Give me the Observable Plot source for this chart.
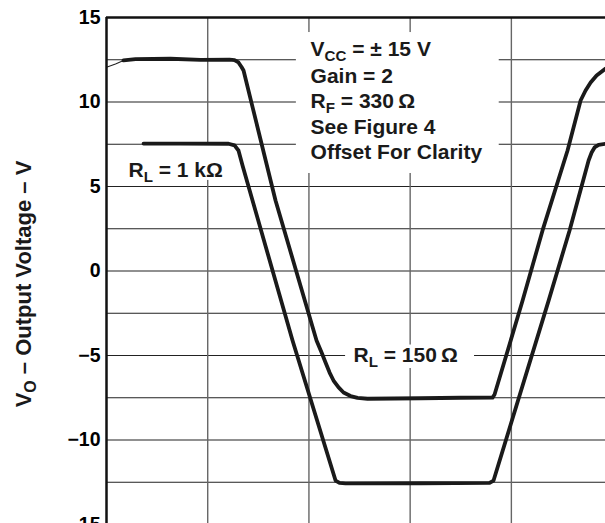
<!DOCTYPE html>
<html><head><meta charset="utf-8">
<script src="https://cdn.jsdelivr.net/npm/d3@7"></script>
<script src="https://cdn.jsdelivr.net/npm/@observablehq/plot@0.6"></script>
<style>
html,body{margin:0;padding:0;background:#fff;overflow:hidden}
#chart svg{display:block}
</style>
</head><body><div id="chart"></div>
<script>
// ---- data ----
const yTicks = [15, 10, 5, 0, -5, -10, -15];
const yTickLabels = ["15", "10", "5", "0", "\u22125", "\u221210", "\u221215"];
const hGrid = [12.5, 10, 7.5, 5, 2.5, 0, -2.5, -5, -7.5, -10, -12.5];
const vGrid = [1, 2, 3, 4];

// R_L = 150 ohm trace (thin lead-in, then thick)
const lead150T = [0, 0.089, 0.168];
const lead150V = [12.06, 12.25, 12.46];
const t150 = [0.168, 0.287, 0.632, 0.929, 1.215, 1.265, 1.304, 1.334, 1.354, 1.670, 2.075, 2.125, 2.164, 2.204, 2.243, 2.293, 2.342, 2.411, 2.480, 2.579, 3.103, 3.498, 3.814, 3.834, 4.111, 4.308, 4.555, 4.684, 4.733, 4.783, 4.842, 4.931];
const v150 = [12.46, 12.54, 12.56, 12.49, 12.51, 12.48, 12.34, 12.07, 11.86, 4.17, -4.11, -4.82, -5.41, -6.01, -6.48, -6.89, -7.19, -7.40, -7.51, -7.56, -7.53, -7.50, -7.49, -7.31, -1.75, 2.40, 7.13, 10.09, 10.68, 11.15, 11.57, 11.98];

// R_L = 1 kohm trace
const t1k = [0.366, 0.731, 1.206, 1.265, 1.304, 1.344, 1.838, 2.263, 2.302, 2.362, 3.103, 3.785, 3.824, 4.368, 4.575, 4.763, 4.793, 4.822, 4.862, 4.931];
const v1k = [7.54, 7.54, 7.53, 7.43, 7.13, 6.24, -4.11, -12.40, -12.54, -12.57, -12.56, -12.54, -12.40, -1.75, 2.40, 6.54, 7.01, 7.31, 7.46, 7.53];

// annotations
const noteLines = ["V{CC} = \u00b1 15 V", "Gain = 2", "R{F} = 330\u2009\u03a9", "See Figure 4", "Offset For Clarity"];
const noteX = [2.016, 2.016, 2.016, 2.016, 2.016];
const noteY = [12.75, 11.14, 9.66, 8.13, 6.60];
const curveLabels = ["R{L} = 1 k\u03a9", "R{L} = 150\u2009\u03a9"];
const curveLabelX = [0.217, 2.44];
const curveLabelY = [5.59, -5.41];
const boxX1 = [1.876, 0.138, 2.362];
const boxX2 = [3.88, 1.176, 3.636];
const boxY1 = [14.11, 7.43, -4.38];
const boxY2 = [5.77, 5.36, -5.77];
const yLabel = "V{O} \u2013 Output Voltage \u2013 V";

// ---- tables ----
const traces = [
  ...t150.map((t, i) => ({t, v: v150[i], s: "150"})),
  ...t1k.map((t, i) => ({t, v: v1k[i], s: "1k"}))
];
const lead = lead150T.map((t, i) => ({t, v: lead150V[i]}));
const notes = noteLines.map((text, i) => ({text, x: noteX[i], y: noteY[i]}))
  .concat(curveLabels.map((text, i) => ({text, x: curveLabelX[i], y: curveLabelY[i]})));
const boxes = boxX1.map((x1, i) => ({x1, x2: boxX2[i], y1: boxY1[i], y2: boxY2[i]}));

const FONT = "'Liberation Sans', Arial, Helvetica, sans-serif";

const chart = Plot.plot({
  width: 605,
  height: 540,
  marginLeft: 106,
  marginRight: 0,
  marginTop: 17,
  marginBottom: 16,
  x: {domain: [0, 4.93], axis: null},
  y: {domain: [-15, 15], axis: null},
  style: {fontFamily: FONT, fontWeight: "bold", background: "white", color: "black"},
  marks: [
    Plot.ruleY(hGrid, {stroke: "#222", strokeWidth: 1.2}),
    Plot.ruleX(vGrid, {stroke: "#666", strokeWidth: 1.4}),
    Plot.rect(boxes, {x1: "x1", x2: "x2", y1: "y1", y2: "y2", fill: "white"}),
    Plot.line(lead, {x: "t", y: "v", stroke: "#222", strokeWidth: 1.1}),
    Plot.line(traces, {x: "t", y: "v", z: "s", stroke: "#1a1a1a", strokeWidth: 3.8, curve: "linear", strokeLinejoin: "round"}),
    Plot.ruleY([15], {stroke: "#111", strokeWidth: 2.5}),
    Plot.ruleX([0], {stroke: "#111", strokeWidth: 2.5}),
    Plot.axisY(yTicks, {tickSize: 0, tickPadding: 6, fontSize: 19.5, fontWeight: "bold", label: null,
      tickFormat: d => yTickLabels[yTicks.indexOf(d)]}),
    Plot.text(notes, {x: "x", y: "y", text: "text", textAnchor: "start", lineAnchor: "bottom", fontSize: 21, fontWeight: "bold", fill: "#1a1a1a"}),
    Plot.text([yLabel], {frameAnchor: "left", text: d => d, rotate: -90, dx: -76, dy: 13, textAnchor: "middle", lineAnchor: "bottom", fontSize: 22, fontWeight: "bold", fill: "#1a1a1a"})
  ]
});

// subscripts: text inside {...}
d3.select(chart).selectAll("text").each(function () {
  const s = this.textContent;
  if (!s.includes("{")) return;
  const el = d3.select(this);
  el.text(null);
  const parts = s.split(/(\{[^}]*\})/).filter(p => p.length);
  let shifted = false;
  for (const p of parts) {
    if (p.startsWith("{")) {
      el.append("tspan").attr("font-size", "0.72em").attr("dy", 5).text(p.slice(1, -1));
      shifted = true;
    } else {
      const ts = el.append("tspan").text(p);
      if (shifted) { ts.attr("dy", -5); shifted = false; }
    }
  }
});

document.getElementById("chart").appendChild(chart);
</script>
</body></html>
